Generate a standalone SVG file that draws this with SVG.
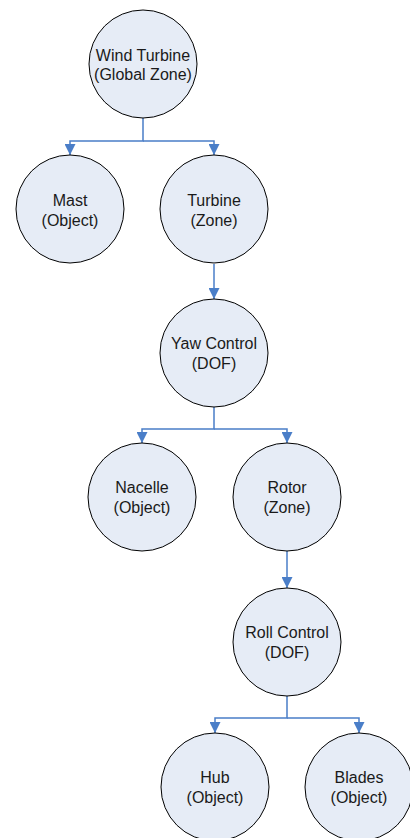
<svg xmlns="http://www.w3.org/2000/svg" width="410" height="838" viewBox="0 0 410 838">
<style>
.node circle{fill:#E6ECF6;stroke:#000;stroke-width:1}
.node text{font-family:"Liberation Sans",Arial,sans-serif;font-size:16px;fill:#1a1a1a;text-anchor:middle}
.conn path{fill:none;stroke:#4A7EC8;stroke-width:1.5}
</style>
<defs>
<marker id="arr" markerWidth="11" markerHeight="11" refX="11" refY="5.5" orient="auto" markerUnits="userSpaceOnUse">
<path d="M0,0 L11,5.5 L0,11 Z" fill="#4A7EC8"/>
</marker>
</defs>
<rect width="410" height="838" fill="#fff"/>
<g class="conn">
<path d="M143,118 V141 H70 V155" marker-end="url(#arr)"/>
<path d="M143,141 H214 V155" marker-end="url(#arr)"/>
<path d="M214,264 V299" marker-end="url(#arr)"/>
<path d="M214,407 V429 H142 V443" marker-end="url(#arr)"/>
<path d="M214,429 H287 V443" marker-end="url(#arr)"/>
<path d="M287,551 V588" marker-end="url(#arr)"/>
<path d="M287,696 V718 H215 V733" marker-end="url(#arr)"/>
<path d="M287,718 H359 V733" marker-end="url(#arr)"/>
</g>
<g id="wind-turbine" class="node"><circle cx="143" cy="64" r="54"/><text x="143" y="61">Wind Turbine</text><text x="143" y="80">(Global Zone)</text></g>
<g id="mast" class="node"><circle cx="70" cy="209" r="54"/><text x="70" y="205.5">Mast</text><text x="70" y="225.5">(Object)</text></g>
<g id="turbine" class="node"><circle cx="214" cy="209" r="54"/><text x="214" y="205.5">Turbine</text><text x="214" y="225.5">(Zone)</text></g>
<g id="yaw-control" class="node"><circle cx="214" cy="353" r="54"/><text x="214" y="349">Yaw Control</text><text x="214" y="369">(DOF)</text></g>
<g id="nacelle" class="node"><circle cx="142" cy="497" r="54"/><text x="142" y="493">Nacelle</text><text x="142" y="513">(Object)</text></g>
<g id="rotor" class="node"><circle cx="287" cy="497" r="54"/><text x="287" y="493">Rotor</text><text x="287" y="513">(Zone)</text></g>
<g id="roll-control" class="node"><circle cx="287" cy="642" r="54"/><text x="287" y="638">Roll Control</text><text x="287" y="658">(DOF)</text></g>
<g id="hub" class="node"><circle cx="215" cy="787" r="54"/><text x="215" y="783">Hub</text><text x="215" y="803">(Object)</text></g>
<g id="blades" class="node"><circle cx="359" cy="787" r="54"/><text x="359" y="783">Blades</text><text x="359" y="803">(Object)</text></g>
</svg>
